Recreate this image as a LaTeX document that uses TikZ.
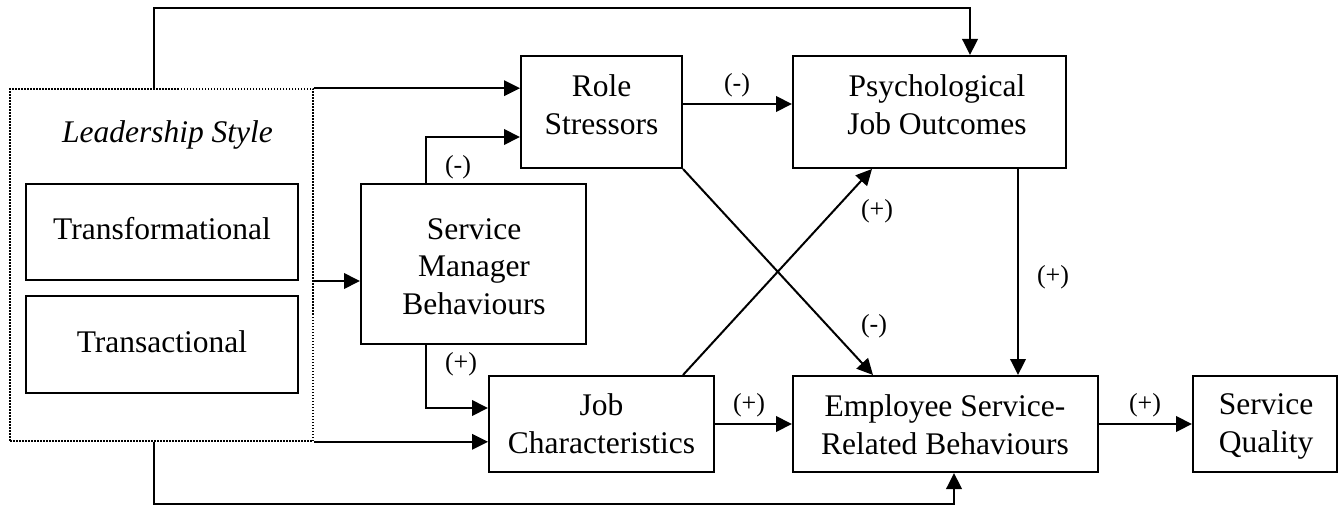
\documentclass[tikz,border=0pt]{standalone}
\usepackage{fontspec}
\setmainfont{Liberation Serif}
\usetikzlibrary{arrows.meta}
\begin{document}
\begin{tikzpicture}[x=1pt,y=-1pt,
  box/.style={draw, line width=2pt, inner sep=0pt},
  groupbox/.style={draw, line width=1.6pt, dash pattern=on 1.5pt off 1.5pt, inner sep=0pt},
  txt/.style={inner sep=0pt, align=center, font=\fontsize{31.5}{37.5}\selectfont},
  lbl/.style={inner sep=0pt, font=\fontsize{26}{30}\selectfont},
  wire/.style={line width=2pt},
  arr/.style={wire, -{Triangle[length=16pt,width=15.5pt]}}
]
\useasboundingbox (0,0) rectangle (1338,505);

% leadership group and its two styles
\node[groupbox, minimum width=303pt, minimum height=352pt] (lead) at (161.5,265) {};
\node[txt, font=\fontsize{31.5}{37.5}\selectfont\itshape] (leadT) at (167.5,135.5) {\strut Leadership Style};
\node[box, minimum width=272pt, minimum height=96pt] (tf) at (162,232) {};
\node[txt] (tfT) at (162,232.5) {\strut Transformational};
\node[box, minimum width=272pt, minimum height=97pt] (ta) at (162,344.5) {};
\node[txt] (taT) at (162,344.5) {\strut Transactional};

% construct boxes
\node[box, minimum width=225pt, minimum height=160pt] (smb) at (473.5,264) {};
\node[txt] (smbT) at (474,269) {\strut Service\\\strut Manager\\\strut Behaviours};
\node[box, minimum width=161pt, minimum height=112pt] (rs) at (601.5,112) {};
\node[txt] (rsT) at (601.5,108) {\strut Role\\\strut Stressors};
\node[box, minimum width=273pt, minimum height=112pt] (psy) at (929.5,112) {};
\node[txt] (psyT) at (937,108) {\strut Psychological\\\strut Job Outcomes};
\node[box, minimum width=225pt, minimum height=96pt] (jc) at (601.5,424) {};
\node[txt] (jcT) at (601.5,427) {\strut Job\\\strut Characteristics};
\node[box, minimum width=305pt, minimum height=96pt] (esrb) at (945.5,424) {};
\node[txt] (esrbT) at (945,428) {\strut Employee Service-\\\strut Related Behaviours};
\node[box, minimum width=144pt, minimum height=96pt] (sq) at (1265,424) {};
\node[txt] (sqT) at (1266,426) {\strut Service\\\strut Quality};

% routing points
\coordinate (topL) at (154,8);
\coordinate (topR) at (970,8);
\coordinate (botL) at (154,503.5);
\coordinate (botR) at (954,503.5);
\coordinate (upBend) at (426,137);
\coordinate (downBend) at (426,408);
\coordinate (diagA) at (873,0);
\coordinate (diagB) at (872,0);
\coordinate (vline) at (1018,0);

% connectors
\draw[arr] (lead.north -| topL) -- (topL) -- (topR) -- (topR |- psy.north);
\draw[arr] (lead.south -| botL) -- (botL) -- (botR) -- (botR |- esrb.south);
\draw[arr] (lead.north east) -- (rs.west |- lead.north east);
\draw[arr] (smb.north -| upBend) -- (upBend) -- (rs.west |- upBend);
\draw[arr] (lead.east |- tf.south) -- (smb.west |- tf.south);
\draw[arr] (smb.south -| downBend) -- (downBend) -- (jc.west |- downBend);
\draw[arr] (lead.south east) -- (jc.west |- lead.south east);
\draw[arr] ([yshift=8pt]rs.east) -- ([yshift=8pt]rs.east -| psy.west);
\draw[arr] (rs.south east) -- (esrb.north -| diagA);
\draw[arr] (jc.north -| rs.south east) -- (psy.south -| diagB);
\draw[arr] (psy.south -| vline) -- (esrb.north -| vline);
\draw[arr] (jc.east) -- (esrb.west |- jc.east);
\draw[arr] (esrb.east) -- (sq.west);

% signs
\node[lbl] (sSmbRs) at (458,167) {(-)};
\node[lbl] (sSmbJc) at (461,364) {(+)};
\node[lbl] (sRsPsy) at (737,85) {(-)};
\node[lbl] (sJcPsy) at (877,211) {(+)};
\node[lbl] (sRsEsrb) at (874,326) {(-)};
\node[lbl] (sPsyEsrb) at (1053,277) {(+)};
\node[lbl] (sJcEsrb) at (749,405) {(+)};
\node[lbl] (sEsrbSq) at (1145,405) {(+)};
\end{tikzpicture}
\end{document}
